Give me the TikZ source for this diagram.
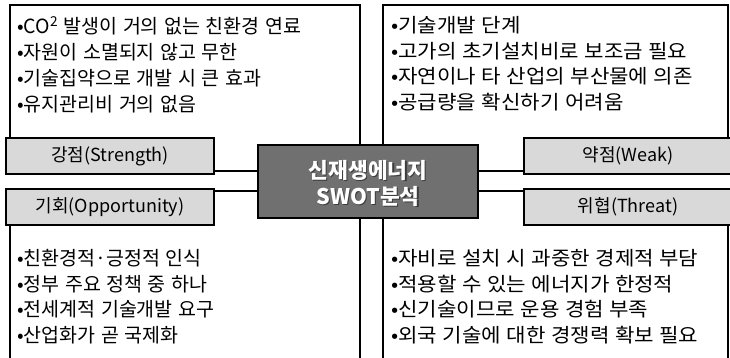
\documentclass[tikz,border=0pt]{standalone}
\usepackage{fontspec}
\setmainfont{Noto Sans CJK KR}
\newfontfamily\widekr[FakeStretch=1.085]{Noto Sans CJK KR}
\newcommand\itemsfont{\fontsize{19.5}{25.8}\selectfont\spaceskip=5.5pt plus 1pt minus 0.5pt\relax}
\newcommand\wideitemsfont{\widekr\fontsize{19.5}{25.8}\selectfont\spaceskip=5.5pt plus 1pt minus 0.5pt\relax}
\begin{document}
\begin{tikzpicture}[x=1pt,y=-1pt,
  quad/.style={draw=black,line width=1.8pt,fill=white},
  tag/.style={draw=black,line width=2.2pt,fill={rgb,255:red,217;green,217;blue,217},
    minimum width=208pt,minimum height=36pt,inner sep=0pt,
    font=\fontsize{18}{20}\selectfont},
  core/.style={draw=black,line width=2pt,fill={rgb,255:red,112;green,112;blue,112},
    minimum width=220pt,minimum height=73pt,inner sep=0pt,align=center,
    text=white,font=\fontsize{21.5}{26}\selectfont\bfseries},
  coreshadow/.style={inner sep=0pt,align=center,text={rgb,255:red,60;green,60;blue,60},
    font=\fontsize{21.5}{26}\selectfont\bfseries},
  items/.style={anchor=north west,inner sep=0pt,align=left,font=\itemsfont},
  wideitems/.style={anchor=north west,inner sep=0pt,align=left,font=\wideitemsfont}]
\useasboundingbox (0,0) rectangle (730,358);
% quadrant boxes
\path[quad] (10,5) rectangle (360,171);
\path[quad] (383,5) rectangle (728,171);
\path[quad] (10,191) rectangle (360,362);
\path[quad] (383,191) rectangle (728,362);
% texts
\node[items] (stext) at (17,16) {•CO\textsuperscript{2} 발생이 거의 없는 친환경 연료\\•자원이 소멸되지 않고 무한\\•기술집약으로 개발 시 큰 효과\\•유지관리비 거의 없음};
\node[wideitems] (wtext) at (391,16) {•기술개발 단계\\•고가의 초기설치비로 보조금 필요\\•자연이나 타 산업의 부산물에 의존\\•공급량을 확신하기 어려움};
\node[items] (otext) at (17,249) {•친환경적·긍정적 인식\\•정부 주요 정책 중 하나\\•전세계적 기술개발 요구\\•산업화가 곧 국제화};
\node[wideitems] (ttext) at (391,249) {•자비로 설치 시 과중한 경제적 부담\\•적용할 수 있는 에너지가 한정적\\•신기술이므로 운용 경험 부족\\•외국 기술에 대한 경쟁력 확보 필요};
% labels
\node[tag] (s) at (110,156) {강점(Strength)};
\node[tag] (o) at (110,207) {기회(Opportunity)};
\node[tag] (w) at (628,156) {약점(Weak)};
\node[tag] (t) at (628,207) {위협(Threat)};
% center
\node[core] (c) at (368,181.5) {};
\node[coreshadow] (cs) at (369.3,184.3) {신재생에너지\\SWOT분석};
\node[coreshadow,text=white] (ct) at (368,183) {신재생에너지\\SWOT분석};
\end{tikzpicture}
\end{document}
